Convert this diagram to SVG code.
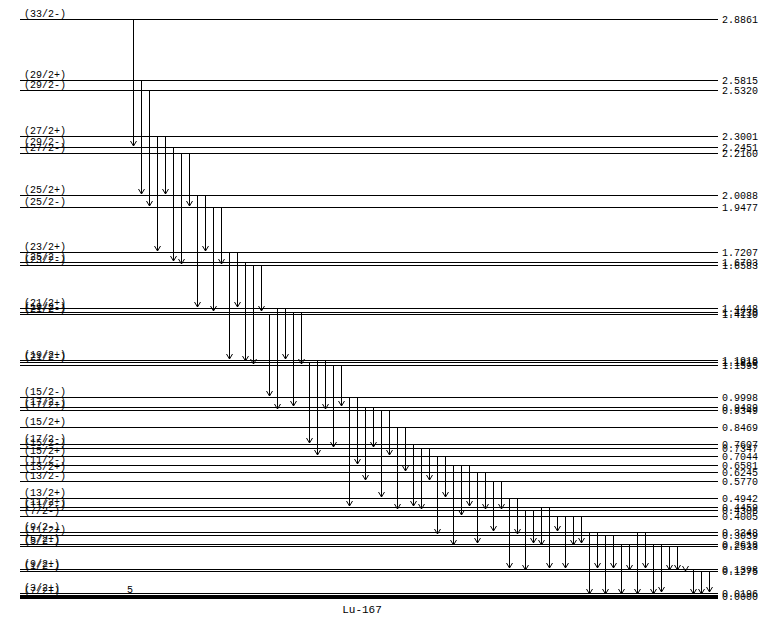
<svg xmlns="http://www.w3.org/2000/svg" width="771" height="619" viewBox="0 0 771 619">
<style>
.lv line{stroke:#000;stroke-width:1;shape-rendering:crispEdges}
text{font-family:"Liberation Mono","DejaVu Sans Mono",monospace;font-size:10px;fill:#000}
.r{font-size:10px}
#tr path{stroke:#000;stroke-width:1;fill:none;shape-rendering:crispEdges;marker-end:url(#v)}
</style>
<defs>
<marker id="v" markerUnits="userSpaceOnUse" viewBox="-6 -4 8 8" markerWidth="8" markerHeight="8" refX="0" refY="0" orient="auto" overflow="visible">
<path d="M-5,-3 L0,0 L-5,3" fill="none" stroke="#000" stroke-width="1"/>
</marker>
</defs>
<rect width="771" height="619" fill="#fff"/>
<g class="lv">
<g id="L2886"><line x1="20" x2="718" y1="19.5" y2="19.5"/><text x="24" y="17">(33/2-)</text><text class="r" x="722" y="23">2.8861</text></g>
<g id="L2582"><line x1="20" x2="718" y1="80.5" y2="80.5"/><text x="24" y="78">(29/2+)</text><text class="r" x="722" y="84">2.5815</text></g>
<g id="L2532"><line x1="20" x2="718" y1="90.5" y2="90.5"/><text x="24" y="88">(29/2-)</text><text class="r" x="722" y="94">2.5320</text></g>
<g id="L2300"><line x1="20" x2="718" y1="136.5" y2="136.5"/><text x="24" y="134">(27/2+)</text><text class="r" x="722" y="140">2.3001</text></g>
<g id="L2245"><line x1="20" x2="718" y1="147.5" y2="147.5"/><text x="24" y="145">(29/2-)</text><text class="r" x="722" y="151">2.2451</text></g>
<g id="L2216"><line x1="20" x2="718" y1="153.5" y2="153.5"/><text x="24" y="151">(27/2-)</text><text class="r" x="722" y="157">2.2160</text></g>
<g id="L2009"><line x1="20" x2="718" y1="195.5" y2="195.5"/><text x="24" y="193">(25/2+)</text><text class="r" x="722" y="199">2.0088</text></g>
<g id="L1948"><line x1="20" x2="718" y1="207.5" y2="207.5"/><text x="24" y="205">(25/2-)</text><text class="r" x="722" y="211">1.9477</text></g>
<g id="L1721"><line x1="20" x2="718" y1="252.5" y2="252.5"/><text x="24" y="250">(23/2+)</text><text class="r" x="722" y="256">1.7207</text></g>
<g id="L1670"><line x1="20" x2="718" y1="262.5" y2="262.5"/><text x="24" y="260">(25/2-)</text><text class="r" x="722" y="266">1.6703</text></g>
<g id="L1658"><line x1="20" x2="718" y1="265.5" y2="265.5"/><text x="24" y="263">(23/2-)</text><text class="r" x="722" y="269">1.6583</text></g>
<g id="L1445"><line x1="20" x2="718" y1="308.5" y2="308.5"/><text x="24" y="306">(21/2+)</text><text class="r" x="722" y="312">1.4448</text></g>
<g id="L1423"><line x1="20" x2="718" y1="312.5" y2="312.5"/><text x="24" y="310">(19/2-)</text><text class="r" x="722" y="316">1.4230</text></g>
<g id="L1411"><line x1="20" x2="718" y1="314.5" y2="314.5"/><text x="24" y="312">(21/2-)</text><text class="r" x="722" y="318">1.4110</text></g>
<g id="L1192"><line x1="20" x2="718" y1="360.5" y2="360.5"/><text x="24" y="358">(19/2+)</text><text class="r" x="722" y="364">1.1918</text></g>
<g id="L1181"><line x1="20" x2="718" y1="362.5" y2="362.5"/><text x="24" y="360">(21/2-)</text><text class="r" x="722" y="366">1.1810</text></g>
<g id="L1160"><line x1="20" x2="718" y1="365.5" y2="365.5"/><text class="r" x="722" y="369">1.1595</text></g>
<g id="L0999"><line x1="20" x2="718" y1="397.5" y2="397.5"/><text x="24" y="395">(15/2-)</text><text class="r" x="722" y="401">0.9998</text></g>
<g id="L0949"><line x1="20" x2="718" y1="407.5" y2="407.5"/><text x="24" y="405">(17/2-)</text><text class="r" x="722" y="411">0.9489</text></g>
<g id="L0935"><line x1="20" x2="718" y1="410.5" y2="410.5"/><text x="24" y="408">(17/2+)</text><text class="r" x="722" y="414">0.9349</text></g>
<g id="L0847"><line x1="20" x2="718" y1="427.5" y2="427.5"/><text x="24" y="425">(15/2+)</text><text class="r" x="722" y="431">0.8469</text></g>
<g id="L0761"><line x1="20" x2="718" y1="444.5" y2="444.5"/><text x="24" y="442">(17/2-)</text><text class="r" x="722" y="448">0.7607</text></g>
<g id="L0735"><line x1="20" x2="718" y1="448.5" y2="448.5"/><text x="24" y="446">(15/2-)</text><text class="r" x="722" y="452">0.7347</text></g>
<g id="L0704"><line x1="20" x2="718" y1="456.5" y2="456.5"/><text x="24" y="454">(15/2+)</text><text class="r" x="722" y="460">0.7044</text></g>
<g id="L0658"><line x1="20" x2="718" y1="465.5" y2="465.5"/><text x="24" y="463">(11/2-)</text><text class="r" x="722" y="469">0.6581</text></g>
<g id="L0625"><line x1="20" x2="718" y1="472.5" y2="472.5"/><text x="24" y="470">(13/2+)</text><text class="r" x="722" y="476">0.6245</text></g>
<g id="L0577"><line x1="20" x2="718" y1="481.5" y2="481.5"/><text x="24" y="479">(13/2-)</text><text class="r" x="722" y="485">0.5770</text></g>
<g id="L0494"><line x1="20" x2="718" y1="498.5" y2="498.5"/><text x="24" y="496">(13/2+)</text><text class="r" x="722" y="502">0.4942</text></g>
<g id="L0446"><line x1="20" x2="718" y1="507.5" y2="507.5"/><text x="24" y="505">(11/2+)</text><text class="r" x="722" y="511">0.4459</text></g>
<g id="L0431"><line x1="20" x2="718" y1="510.5" y2="510.5"/><text x="24" y="508">(11/2-)</text><text class="r" x="722" y="514">0.4306</text></g>
<g id="L0401"><line x1="20" x2="718" y1="516.5" y2="516.5"/><text x="24" y="514">(7/2-)</text><text class="r" x="722" y="520">0.4005</text></g>
<g id="L0325"><line x1="20" x2="718" y1="532.5" y2="532.5"/><text x="24" y="530">(9/2-)</text><text class="r" x="722" y="536">0.3248</text></g>
<g id="L0306"><line x1="20" x2="718" y1="535.5" y2="535.5"/><text x="24" y="533">(11/2+)</text><text class="r" x="722" y="539">0.3059</text></g>
<g id="L0262"><line x1="20" x2="718" y1="544.5" y2="544.5"/><text x="24" y="542">(5/2+)</text><text class="r" x="722" y="548">0.2618</text></g>
<g id="L0253"><line x1="20" x2="718" y1="546.5" y2="546.5"/><text x="24" y="544">(5/2-)</text><text class="r" x="722" y="550">0.2533</text></g>
<g id="L0140"><line x1="20" x2="718" y1="569.5" y2="569.5"/><text x="24" y="567">(9/2+)</text><text class="r" x="722" y="573">0.1398</text></g>
<g id="L0128"><line x1="20" x2="718" y1="571.5" y2="571.5"/><text x="24" y="569">(1/2-)</text><text class="r" x="722" y="575">0.1275</text></g>
<g id="L0020"><line x1="20" x2="718" y1="593.5" y2="593.5"/><text x="24" y="591">(3/2+)</text><text class="r" x="722" y="597">0.0196</text></g>
<g id="L0000"><rect x="20" y="595" width="698" height="4" fill="#000"/><text x="24" y="594">(7/2+)</text><text class="r" x="722" y="600">0.0000</text></g>
</g>
<g id="tr">
<path d="M133.5 19V146"/>
<path d="M141.5 80V194"/>
<path d="M149.5 90V206"/>
<path d="M157.5 136V251"/>
<path d="M165.5 136V194"/>
<path d="M173.5 147V261"/>
<path d="M181.5 153V264"/>
<path d="M189.5 153V206"/>
<path d="M197.5 195V307"/>
<path d="M205.5 195V251"/>
<path d="M213.5 207V311"/>
<path d="M221.5 207V264"/>
<path d="M229.5 252V359"/>
<path d="M237.5 252V307"/>
<path d="M245.5 262V361"/>
<path d="M253.5 265V364"/>
<path d="M261.5 265V311"/>
<path d="M269.5 314V396"/>
<path d="M277.5 308V409"/>
<path d="M285.5 308V359"/>
<path d="M293.5 312V406"/>
<path d="M301.5 312V364"/>
<path d="M309.5 362V443"/>
<path d="M317.5 360V455"/>
<path d="M325.5 360V409"/>
<path d="M333.5 365V447"/>
<path d="M341.5 365V406"/>
<path d="M349.5 397V506"/>
<path d="M357.5 397V464"/>
<path d="M365.5 407V480"/>
<path d="M373.5 407V447"/>
<path d="M381.5 410V497"/>
<path d="M389.5 410V455"/>
<path d="M397.5 427V509"/>
<path d="M405.5 427V471"/>
<path d="M413.5 444V506"/>
<path d="M421.5 448V509"/>
<path d="M429.5 448V480"/>
<path d="M437.5 456V534"/>
<path d="M445.5 456V497"/>
<path d="M453.5 465V545"/>
<path d="M461.5 465V515"/>
<path d="M469.5 465V506"/>
<path d="M477.5 472V543"/>
<path d="M485.5 472V509"/>
<path d="M493.5 481V531"/>
<path d="M501.5 481V509"/>
<path d="M509.5 498V568"/>
<path d="M517.5 498V534"/>
<path d="M525.5 510V570"/>
<path d="M533.5 510V543"/>
<path d="M541.5 507V545"/>
<path d="M549.5 507V568"/>
<path d="M557.5 516V531"/>
<path d="M565.5 516V568"/>
<path d="M573.5 516V545"/>
<path d="M581.5 516V543"/>
<path d="M589.5 532V594"/>
<path d="M597.5 532V568"/>
<path d="M605.5 535V594"/>
<path d="M613.5 535V568"/>
<path d="M621.5 544V594"/>
<path d="M629.5 544V570"/>
<path d="M637.5 532V594"/>
<path d="M645.5 532V568"/>
<path d="M653.5 544V594"/>
<path d="M661.5 544V592"/>
<path d="M669.5 546V570"/>
<path d="M677.5 546V570"/>
<path d="M685.5 569V571"/>
<path d="M693.5 569V594"/>
<path d="M701.5 571V594"/>
<path d="M709.5 571V592"/>
</g>
<text x="127" y="593">5</text>
<text x="362" y="613" text-anchor="middle" style="font-size:11px">Lu-167</text>
</svg>
